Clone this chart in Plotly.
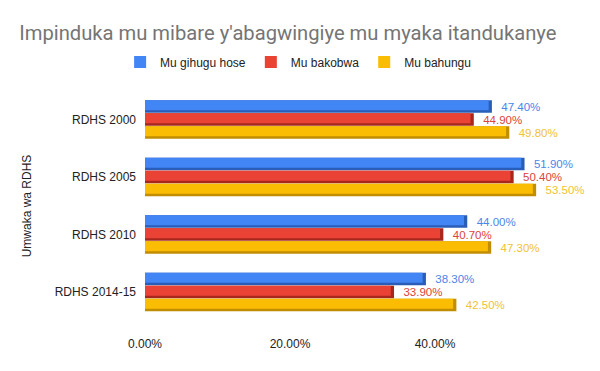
import plotly.graph_objects as go

categories = ["RDHS 2000", "RDHS 2005", "RDHS 2010", "RDHS 2014-15"]
series_names = ["Mu gihugu hose", "Mu bakobwa", "Mu bahungu"]
national = [47.4, 51.9, 44.0, 38.3]
girls = [44.9, 50.4, 40.7, 33.9]
boys = [49.8, 53.5, 47.3, 42.5]
tick_vals = [0, 20, 40]
tick_text = ["0.00%", "20.00%", "40.00%"]

values = [national, girls, boys]
colors = ["#4285F4", "#EA4335", "#FBBC04"]
shadow_colors = ["#2A5DB8", "#A8271C", "#C08E00"]
label_colors = ["#4A86E8", "#DB4437", "#F1C232"]

slot = 0.226      # category-units per bar slot
face = 0.175      # visible face height
ext = 0.45        # shadow extension in % units

fig = go.Figure()
for i, (name, vals) in enumerate(zip(series_names, values)):
    off = -1.5 * slot + i * slot
    fig.add_trace(go.Bar(
        y=categories, x=[v + ext for v in vals], orientation="h",
        offset=off, width=slot * 0.97,
        marker=dict(color=shadow_colors[i], line=dict(width=0)),
        showlegend=False, hoverinfo="skip",
        text=["\u00a0\u00a0" + f"{v:.2f}%" for v in vals], textposition="outside",
        textfont=dict(color=label_colors[i], size=11.5, family="Liberation Sans, Arial"),
        cliponaxis=False,
    ))
    fig.add_trace(go.Bar(
        y=categories, x=vals, orientation="h", name=name,
        offset=off, width=face,
        marker=dict(color=colors[i], line=dict(width=0)),
    ))

fig.update_layout(
    width=600, height=371,
    barmode="overlay",
    margin=dict(l=145, r=20, t=91, b=50, autoexpand=False),
    paper_bgcolor="white", plot_bgcolor="white",
    title=dict(text="Impinduka mu mibare y'abagwingiye mu myaka itandukanye",
               x=0.032, xanchor="left", y=0.91, yanchor="middle",
               font=dict(family="Roboto, Arial", size=20.2, color="#757575")),
    legend=dict(orientation="h", x=0.352, xanchor="center",
                y=1.126, yanchor="middle",
                font=dict(family="Liberation Sans, Arial", size=12, color="#222222"),
                traceorder="normal"),
    font=dict(family="Liberation Sans, Arial", size=12, color="#222222"),
    xaxis=dict(range=[0, 60], tickvals=tick_vals, ticktext=tick_text,
               showgrid=False, zeroline=False, showline=False, automargin=False,
               tickangle=0, ticklabelstandoff=14,
               tickfont=dict(size=12, color="#222222")),
    yaxis=dict(autorange="reversed", showgrid=False, showline=False,
               ticks="", ticklabelstandoff=8, automargin=False,
               title=dict(text="Umwaka wa RDHS", standoff=20,
                          font=dict(size=12, color="#222222")),
               tickfont=dict(size=12, color="#222222")),
    bargap=0.32,
)
fig.write_html("out.html", post_script="document.body.style.margin='0';",
               config={"displayModeBar": False})
